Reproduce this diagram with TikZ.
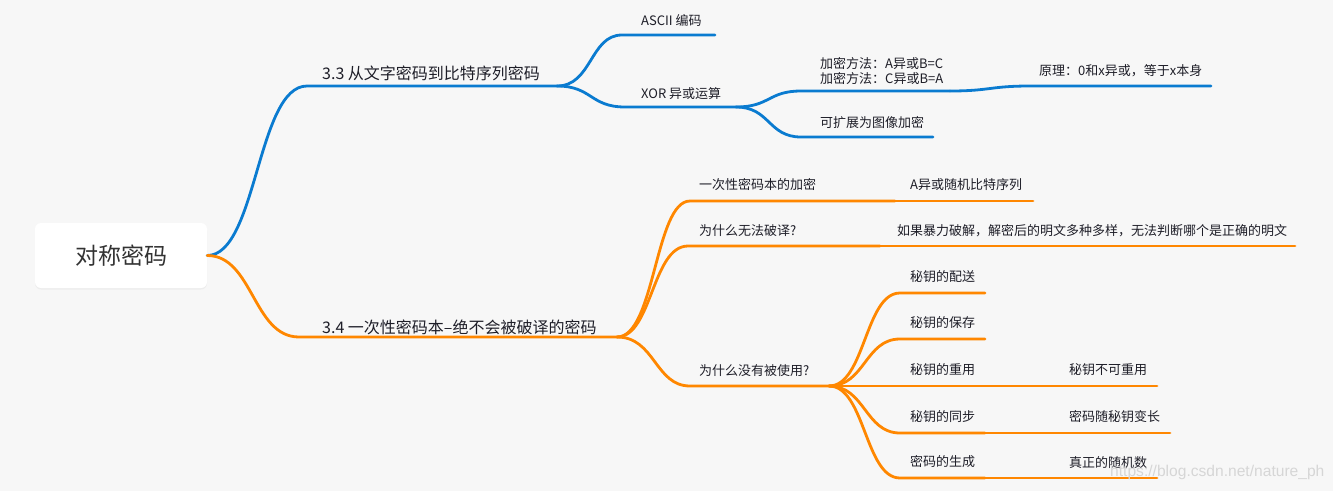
\documentclass[tikz,border=0pt]{standalone}
\usepackage{fontspec}
\setmainfont{Noto Sans CJK SC}
\newfontfamily\wmfont{Liberation Sans}
\usetikzlibrary{shadows}
\definecolor{bg}{HTML}{F7F7F7}
\definecolor{bl}{HTML}{0A7BD0}
\definecolor{og}{HTML}{FF8700}
\definecolor{tx}{HTML}{1E1E28}
\begin{document}
\begin{tikzpicture}[x=1pt,y=-1pt,
  lbl/.style={anchor=west,inner sep=0pt,text=tx,font=\fontsize{13}{15}\selectfont},
  midlbl/.style={anchor=west,inner sep=0pt,text=tx,font=\fontsize{16}{19}\selectfont},
  rootbox/.style={draw=none,fill=white,rounded corners=6pt,minimum width=172pt,minimum height=65pt,
    text=black!80,font=\fontsize{23}{27}\selectfont,drop shadow={opacity=0.08,shadow xshift=0pt,shadow yshift=-1.5pt}},
  bline/.style={draw=bl,line width=2.8pt,line cap=round},
  oline/.style={draw=og,line width=2.8pt,line cap=round},
]
\useasboundingbox (0,0) rectangle (1333,491);
\fill[bg] (0,0) rectangle (1333,491);

% root
\node[rootbox] (root) at (121,255.5) {对称密码};

% ---------- blue branch ----------
\coordinate (b33s) at (307,86); \coordinate (b33e) at (557,86);
\node[midlbl] (t33) at (322,73) {3.3 从文字密码到比特序列密码};
\draw[bline] (root.east) .. controls (257,255.5) and (257,86) .. (b33s) -- (b33e);

\coordinate (asS) at (622,35); \coordinate (asE) at (715,35);
\node[lbl] (tas) at (641,20) {ASCII 编码};
\draw[bline] (b33e) .. controls (592,86) and (590,35) .. (asS) -- (asE);

\coordinate (xoS) at (625,107); \coordinate (xoE) at (736,107);
\node[lbl] (txo) at (641,94) {XOR 异或运算};
\draw[bline] (b33e) .. controls (592,86) and (590,107) .. (xoS) -- (xoE);

\coordinate (jmS) at (801,91); \coordinate (jmE) at (950,91);
\node[lbl,align=left] (tjm) at (820,71.5) {加密方法：A异或B=C\\加密方法：C异或B=A};
\draw[bline] (xoE) .. controls (770,107) and (768,91) .. (jmS) -- (jmE);

\coordinate (ylS) at (1030,86); \coordinate (ylE) at (1211,86);
\node[lbl] (tyl) at (1039,71) {原理：0和x异或，等于x本身};
\draw[bline] (jmE) .. controls (990,91) and (990,86) .. (ylS) -- (ylE);

\coordinate (kzS) at (801,137); \coordinate (kzE) at (933,137);
\node[lbl] (tkz) at (820,123) {可扩展为图像加密};
\draw[bline] (xoE) .. controls (770,107) and (768,137) .. (kzS) -- (kzE);

% ---------- orange branch ----------
\coordinate (o34s) at (299,337); \coordinate (o34e) at (617,337);
\node[midlbl] (t34) at (322,327) {3.4 一次性密码本–绝不会被破译的密码};
\draw[oline] (root.east) .. controls (253,255.5) and (253,337) .. (o34s) -- (o34e);

\coordinate (ycS) at (690,201); \coordinate (ycE) at (895,201); \coordinate (axE) at (1033,201);
\node[lbl] (tyc) at (699,185) {一次性密码本的加密};
\node[lbl] (tax) at (910,185) {A异或随机比特序列};
\draw[oline] (o34e) .. controls (655,337) and (655,201) .. (ycS) -- (ycE);
\draw[oline] (ycE) -- (axE);

\coordinate (wfS) at (688,246); \coordinate (wfE) at (880,246); \coordinate (rgE) at (1295,246);
\node[lbl] (twf) at (699,231) {为什么无法破译?};
\node[lbl] (trg) at (897,231) {如果暴力破解，解密后的明文多种多样，无法判断哪个是正确的明文};
\draw[oline] (o34e) .. controls (652,337) and (652,246) .. (wfS) -- (wfE);
\draw[oline] (wfE) -- (rgE);

\coordinate (myS) at (690,386); \coordinate (myE) at (829,386);
\node[lbl] (tmy) at (699,371) {为什么没有被使用?};
\draw[oline] (o34e) .. controls (655,337) and (655,386) .. (myS) -- (myE);

% children of 为什么没有被使用
\foreach \n/\y/\t in {ps/293/秘钥的配送, bc/339/秘钥的保存, cy/386/秘钥的重用, tb/433/秘钥的同步, sc/478/密码的生成}{
  \coordinate (\n S) at (900,\y); \coordinate (\n E) at (985,\y);
  \node[lbl] (t\n) at (910,\y-16) {\t};
  \draw[oline] (myE) .. controls (865,386) and (865,\y) .. (\n S) -- (\n E);
}
\coordinate (bkE) at (1157,386);
\node[lbl] (tbk) at (1069,370) {秘钥不可重用};
\draw[oline] (cyE) -- (bkE);
\coordinate (mbE) at (1170,433);
\node[lbl] (tmb) at (1069,417) {密码随秘钥变长};
\draw[oline] (tbE) -- (mbE);
\coordinate (zsE) at (1157,478);
\node[lbl] (tzs) at (1069,463) {真正的随机数};
\draw[oline] (scE) -- (zsE);

% watermark
\node[anchor=west,inner sep=0pt,text=black!16,font=\wmfont\fontsize{15.6}{18}\selectfont] (wm) at (1110,472) {https://blog.csdn.net/nature\_ph};
\end{tikzpicture}
\end{document}
